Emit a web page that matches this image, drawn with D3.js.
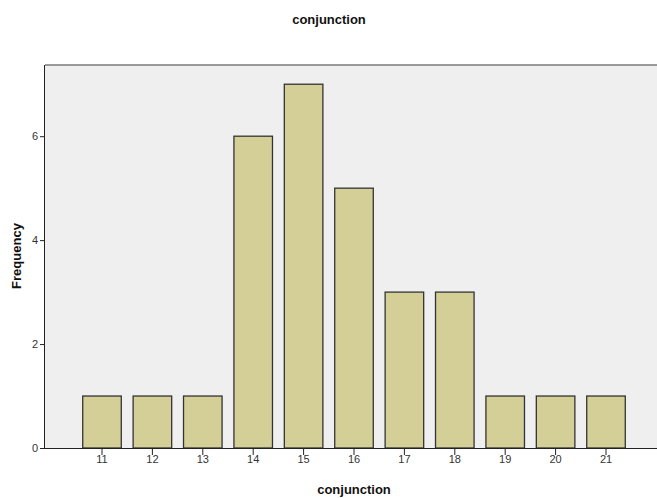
<!DOCTYPE html>
<html>
<head>
<meta charset="utf-8">
<script src="https://d3js.org/d3.v7.min.js"></script>
<style>
  body { margin: 0; background: #fff; }
  svg { display: block; font-family: "Liberation Sans", Arial, sans-serif; }
</style>
</head>
<body>
<svg id="drawing_region"></svg>
<script>
// data
const categories = ["11", "12", "13", "14", "15", "16", "17", "18", "19", "20", "21"];
const frequencies = [1, 1, 1, 6, 7, 5, 3, 3, 1, 1, 1];
const yTicks = [0, 2, 4, 6];

const width = 657, height = 498;
const plot = { left: 45, right: 657, top: 65, bottom: 448 };

const svg = d3.select("#drawing_region")
    .attr("width", width)
    .attr("height", height);

// plot background
svg.append("rect")
    .attr("x", plot.left)
    .attr("y", plot.top)
    .attr("width", plot.right - plot.left)
    .attr("height", plot.bottom - plot.top)
    .attr("fill", "#efefef");

svg.append("line")
    .attr("x1", plot.left).attr("x2", plot.right)
    .attr("y1", plot.top).attr("y2", plot.top)
    .attr("stroke", "#7a7a7a")
    .attr("stroke-width", 1.5);

// scales
const xscale = d3.scaleBand()
    .domain(categories)
    .range([76.8, 631.2])
    .paddingInner(0.235)
    .paddingOuter(0.1175);

const yscale = d3.scaleLinear()
    .domain([0, 7.37])
    .range([plot.bottom, plot.top]);

// bars
svg.append("g")
    .selectAll("rect")
    .data(categories)
    .join("rect")
    .attr("x", d => xscale(d))
    .attr("y", (d, i) => yscale(frequencies[i]))
    .attr("width", xscale.bandwidth())
    .attr("height", (d, i) => yscale(0) - yscale(frequencies[i]))
    .attr("fill", "#d4cf97")
    .attr("stroke", "#333")
    .attr("stroke-width", 1.3);

// x axis
const xaxis = d3.axisBottom(xscale).tickSize(7).tickSizeOuter(0);
const xg = svg.append("g")
    .attr("transform", `translate(0, ${plot.bottom})`)
    .call(xaxis);
xg.select(".domain").attr("d", `M${plot.left},0.5H${plot.right}`).attr("stroke", "#222");
xg.selectAll(".tick line").attr("stroke", "#222");
xg.selectAll(".tick text")
    .attr("dy", "0.95em")
    .attr("y", 5)
    .attr("font-size", 11)
    .attr("fill", "#333")
    .attr("font-family", "Liberation Sans, Arial, sans-serif");

// y axis
const yaxis = d3.axisLeft(yscale).tickValues(yTicks).tickSize(5).tickSizeOuter(0);
const yg = svg.append("g")
    .attr("transform", `translate(${plot.left}, 0)`)
    .call(yaxis);
yg.select(".domain").attr("d", `M-0.5,${plot.bottom}V${plot.top}`).attr("stroke", "#222");
yg.selectAll(".tick line").attr("stroke", "#222");
yg.selectAll(".tick text")
    .attr("x", -7)
    .attr("font-size", 11)
    .attr("fill", "#333")
    .attr("font-family", "Liberation Sans, Arial, sans-serif");

// titles
svg.append("text")
    .attr("x", 329).attr("y", 24)
    .attr("text-anchor", "middle")
    .attr("font-size", 13)
    .attr("font-weight", "bold")
    .attr("fill", "#111")
    .text("conjunction");

svg.append("text")
    .attr("x", 354).attr("y", 494)
    .attr("text-anchor", "middle")
    .attr("font-size", 13)
    .attr("font-weight", "bold")
    .attr("fill", "#111")
    .text("conjunction");

svg.append("text")
    .attr("transform", "translate(21, 256) rotate(-90)")
    .attr("text-anchor", "middle")
    .attr("font-size", 13)
    .attr("font-weight", "bold")
    .attr("fill", "#111")
    .text("Frequency");
</script>
</body>
</html>
